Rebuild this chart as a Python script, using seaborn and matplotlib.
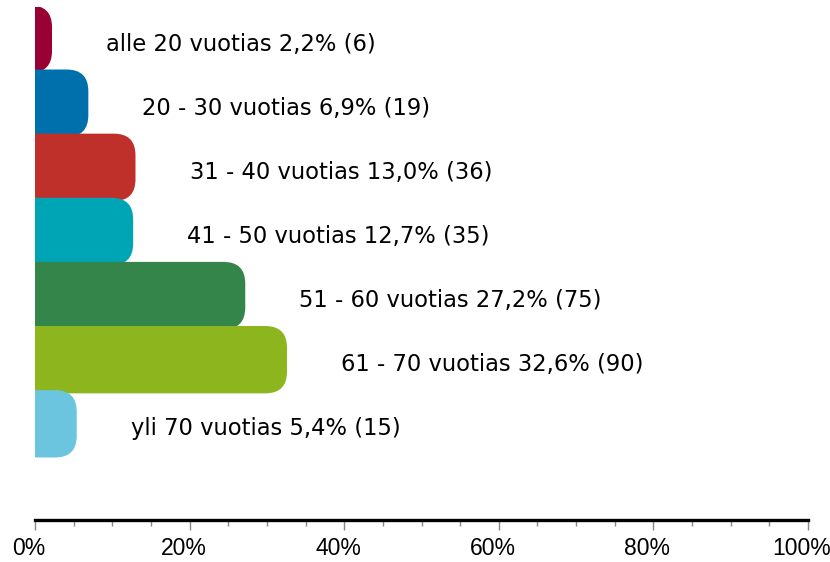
import pandas as pd
import seaborn as sns
import matplotlib.pyplot as plt
import matplotlib.transforms as mtransforms
from matplotlib.patches import FancyBboxPatch

# ---------------- data ----------------
groups = ['alle 20 vuotias', '20 - 30 vuotias', '31 - 40 vuotias', '41 - 50 vuotias',
          '51 - 60 vuotias', '61 - 70 vuotias', 'yli 70 vuotias']
shares = [2.2, 6.9, 13.0, 12.7, 27.2, 32.6, 5.4]
counts = [6, 19, 36, 35, 75, 90, 15]
colors = ['#990033', '#0070AD', '#C0302A', '#00A5B5', '#33854A', '#8DB51E', '#6CC5DF']

df = pd.DataFrame({'group': groups, 'share': shares})

# ---------------- plot ----------------
sns.set_style('white')
fig = plt.figure(figsize=(8.3, 5.62), dpi=100)
ax = fig.add_axes([35 / 830, 1 - 520 / 562, 773 / 830, 513 / 562])

sns.barplot(data=df, x='share', y='group', hue='group', palette=colors,
            saturation=1, width=1.05, legend=False, orient='h', ax=ax)

ax.set_xlim(0, 100)
ax.set_ylim(7.5, -0.5)

# swap the square bars for ones with rounded right ends
fig.canvas.draw()
bb = ax.get_window_extent()
px_x = bb.width / 100
px_y = bb.height / 8
asp = px_x / px_y
r = 2.8
bars = list(ax.patches)
for p in bars:
    x, y, w, h = p.get_x(), p.get_y(), p.get_width(), p.get_height()
    col = p.get_facecolor()
    p.remove()
    ax.add_patch(FancyBboxPatch((x - r, y), w + r, h,
                                boxstyle=f"round,pad=0,rounding_size={r}",
                                mutation_aspect=asp, facecolor=col,
                                edgecolor='none'))

# labels next to the bars
for i, (g, v, c) in enumerate(zip(groups, shares, counts)):
    txt = f"{g} {v:.1f}%".replace('.', ',') + f" ({c})"
    ax.text(v + 7, i + 0.08, txt, va='center', ha='left',
            fontsize=16.3, family='DejaVu Sans', color='black')

# axis styling
for s in ['top', 'right', 'left']:
    ax.spines[s].set_visible(False)
ax.spines['bottom'].set_linewidth(2.4)
ax.spines['bottom'].set_color('black')

ax.set_yticks([])
ax.set_xticks(range(0, 101, 20))
ax.set_xticks(range(0, 101, 5), minor=True)
ax.set_xticklabels([f"{t}%" for t in range(0, 101, 20)],
                   fontsize=16.5, family='Liberation Sans', color='black')
ax.tick_params(axis='x', which='major', bottom=True, length=7, width=1,
               color='#888888', direction='out', pad=5)
ax.tick_params(axis='x', which='minor', bottom=True, length=4, width=1,
               color='#888888', direction='out')
ax.set_xlabel('')
ax.set_ylabel('')

offset = mtransforms.ScaledTranslation(-6 / 100, 0, fig.dpi_scale_trans)
for lab in ax.get_xticklabels():
    lab.set_transform(lab.get_transform() + offset)

plt.savefig('out.png', dpi=100)
plt.close()
